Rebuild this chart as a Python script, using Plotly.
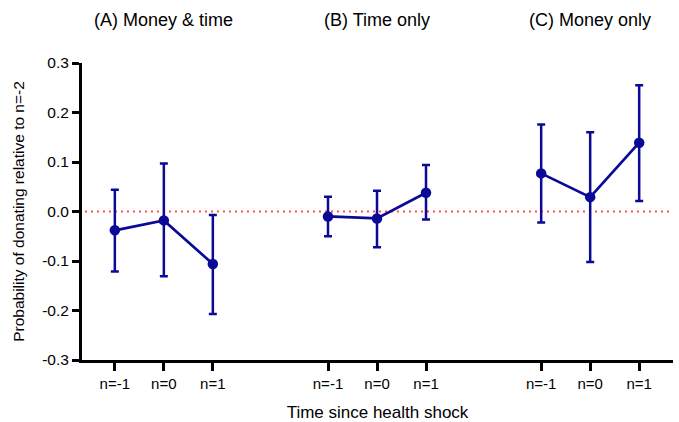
import plotly.graph_objects as go

# ---- data ----
panel_titles = ["(A) Money & time", "(B) Time only", "(C) Money only"]
time_labels = ["n=-1", "n=0", "n=1"]
group_offsets = [0.0, 4.35, 8.7]

estimates = {
    "(A) Money & time": [-0.038, -0.018, -0.106],
    "(B) Time only": [-0.010, -0.014, 0.038],
    "(C) Money only": [0.077, 0.029, 0.139],
}
ci_upper = {
    "(A) Money & time": [0.044, 0.097, -0.007],
    "(B) Time only": [0.030, 0.042, 0.094],
    "(C) Money only": [0.176, 0.160, 0.255],
}
ci_lower = {
    "(A) Money & time": [-0.121, -0.131, -0.207],
    "(B) Time only": [-0.050, -0.072, -0.016],
    "(C) Money only": [-0.022, -0.102, 0.021],
}
y_tick_vals = [-0.3, -0.2, -0.1, 0.0, 0.1, 0.2, 0.3]
y_tick_text = ["-0.3", "-0.2", "-0.1", "0.0", "0.1", "0.2", "0.3"]

BLUE = "#0a0a96"
FONT = "Liberation Sans, Arial, sans-serif"

fig = go.Figure()
tickvals, ticktext = [], []
for title, off in zip(panel_titles, group_offsets):
    xs = [off + i for i in range(len(time_labels))]
    est = estimates[title]
    up = [u - e for u, e in zip(ci_upper[title], est)]
    lo = [e - l for l, e in zip(ci_lower[title], est)]
    fig.add_trace(go.Scatter(
        x=xs, y=est, mode="lines+markers",
        line=dict(color=BLUE, width=2.7),
        marker=dict(color=BLUE, size=10.5),
        error_y=dict(type="data", symmetric=False, array=up, arrayminus=lo,
                     color=BLUE, thickness=2.5, width=4),
        showlegend=False,
    ))
    tickvals += xs
    ticktext += time_labels
    fig.add_annotation(x=off + 1, y=1.145, xref="x", yref="paper",
                       yanchor="middle", xanchor="center",
                       text=title, showarrow=False,
                       font=dict(size=18, color="black", family=FONT))

fig.add_shape(type="line", xref="paper", yref="y", x0=0.005, x1=0.995, y0=0, y1=0,
              line=dict(color="#ff4d4d", width=2, dash="2px,4px"), layer="below")

fig.update_layout(
    width=679, height=422,
    margin=dict(l=82, r=6, t=63, b=62, autoexpand=False),
    plot_bgcolor="white", paper_bgcolor="white",
    font=dict(family=FONT, color="black", size=15),
    xaxis=dict(range=[-0.67, 11.39], tickvals=tickvals, ticktext=ticktext,
               showline=True, linewidth=3, linecolor="black",
               ticks="outside", ticklen=8, tickwidth=3, tickcolor="black",
               showgrid=False, zeroline=False, automargin=False,
               tickfont=dict(size=15),
               title=dict(text="Time since health shock", font=dict(size=17), standoff=19)),
    yaxis=dict(range=[-0.3, 0.3], tickvals=y_tick_vals, ticktext=y_tick_text,
               showline=True, linewidth=3, linecolor="black",
               ticks="outside", ticklen=7, tickwidth=3, tickcolor="black",
               showgrid=False, zeroline=False, automargin=False,
               tickfont=dict(size=15.5),
               title=dict(text="Probability of donating relative to n=-2", font=dict(size=15.5), standoff=14)),
)

fig.write_html("out.html", config={"displayModeBar": False},
               post_script="document.body.style.margin='0';document.body.style.overflow='hidden';")
